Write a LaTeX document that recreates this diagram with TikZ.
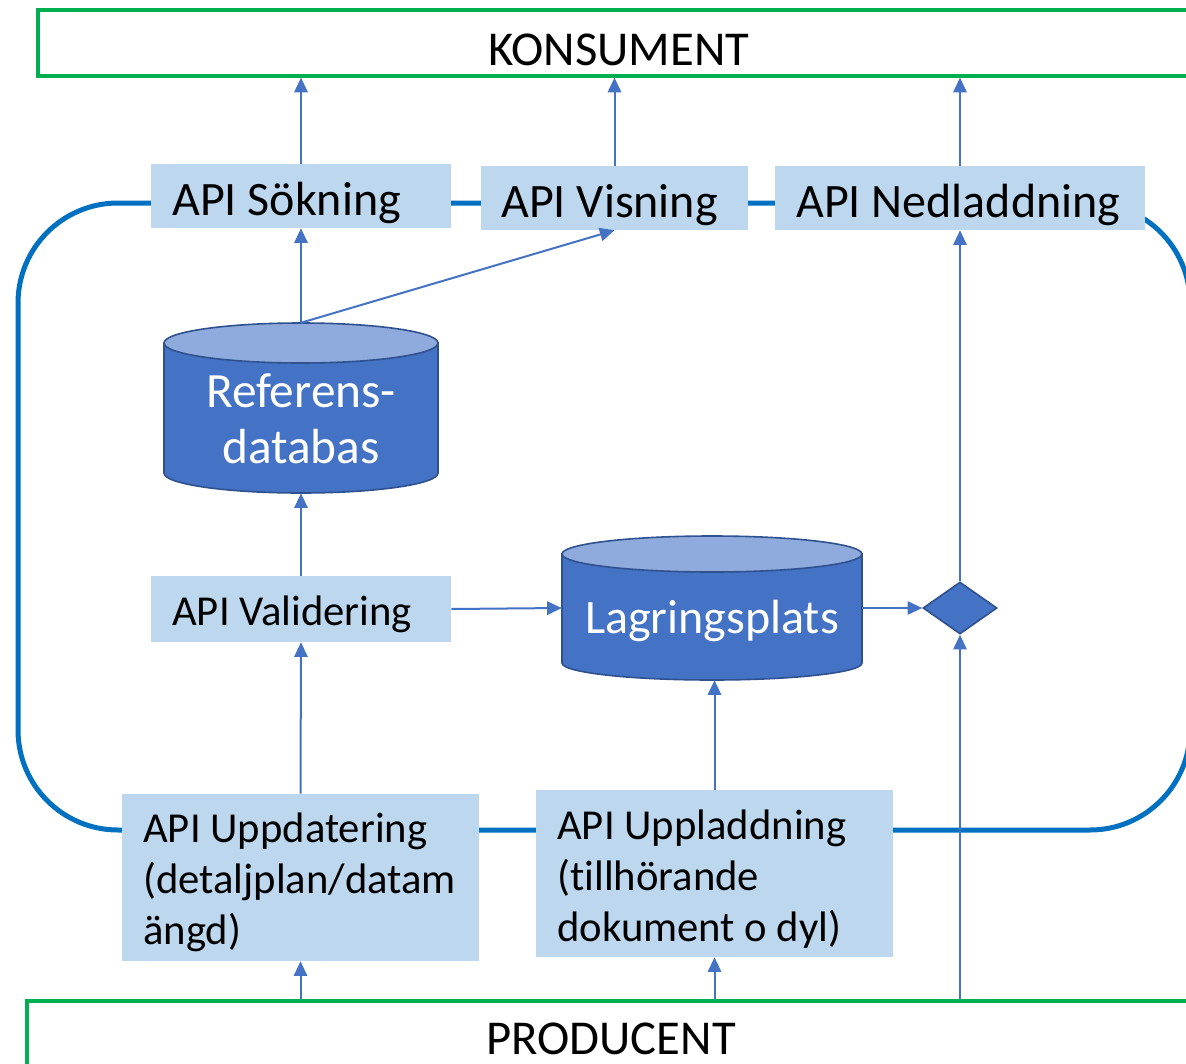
\documentclass[tikz,border=0pt]{standalone}
\usepackage{fontspec}
\setmainfont{Carlito}[Ligatures=NoCommon]
\usetikzlibrary{arrows.meta,shapes.geometric}
\definecolor{grn}{HTML}{00B050}
\definecolor{framec}{HTML}{0070C0}
\definecolor{boxfill}{HTML}{BDD7EE}
\definecolor{arrc}{HTML}{4472C4}
\definecolor{cylbody}{HTML}{4472C4}
\definecolor{cyltop}{HTML}{8FAADC}
\definecolor{cylline}{HTML}{2F528F}
\begin{document}
\begin{tikzpicture}[x=0.75pt,y=-0.75pt,
  apibox/.style={fill=boxfill, draw=none, inner sep=0},
  lbl/.style={inner sep=0, align=left, font=\fontsize{36}{38.25}\selectfont, text=black},
  small/.style={font=\fontsize{32}{38.25}\selectfont},
  arr/.style={draw=arrc, line width=1.5pt, -{Triangle[length=11pt,width=10pt]}},
  party/.style={draw=grn, line width=2.4pt, fill=white, inner sep=0},
  cyl/.style={fill=cylbody, draw=cylline, line width=1.2pt},
  anchorbox/.style={inner sep=0, draw=none}]
\useasboundingbox (0,0) rectangle (1186,1064);
\clip (0,0) rectangle (1186,1064);
\fill[white] (0,0) rectangle (1186,1064);

% surrounding frame
\draw[framec, line width=3.75pt, rounded corners=75pt] (18,203) rectangle (1190,830);

% consumer and producer
\node[party, minimum width=871.5pt, minimum height=49.5pt] (kons) at (619,43) {};
\node[lbl, anchor=base, font=\fontsize{36.5}{40}\selectfont] (konst) at (619,65) {KONSUMENT};
\node[party, minimum width=876pt, minimum height=90pt] (prod) at (611,1061) {};
\node[lbl, anchor=base, font=\fontsize{36.5}{40}\selectfont] (prodt) at (611,1054) {PRODUCENT};

% API boxes
\node[apibox, minimum width=225pt, minimum height=48pt] (sok) at (301,196) {};
\node[lbl, anchor=base west] (sokt) at (172,215) {API Sökning};
\node[apibox, minimum width=200.25pt, minimum height=48pt] (vis) at (614.5,198) {};
\node[lbl, anchor=base west] (vist) at (501,217) {API Visning};
\node[apibox, minimum width=277.5pt, minimum height=48pt] (ned) at (960,198) {};
\node[lbl, anchor=base west] (nedt) at (796,217) {API Nedladdning};
\node[apibox, minimum width=225pt, minimum height=49.5pt] (val) at (301,609) {};
\node[lbl, small, anchor=base west] (valt) at (172,625) {API Validering};
\node[apibox, minimum width=267.75pt, minimum height=125.25pt] (upd) at (300.5,877.5) {};
\node[lbl, small, anchor=north west] (updt) at (143,812.5) {API Uppdatering\\(detaljplan/datam\\ängd)};
\node[apibox, minimum width=267.75pt, minimum height=125.25pt] (upl) at (714.5,873.5) {};
\node[lbl, small, anchor=north west] (uplt) at (557,809.5) {API Uppladdning\\(tillhörande\\dokument o dyl)};

% Referensdatabas cylinder
\path[cyl] (164,343) -- (164,473) arc[start angle=180,end angle=360,x radius=102.75pt,y radius=15pt] -- (438,343) -- cycle;
\draw[cyl, fill=cyltop] (301,343) ellipse [x radius=102.75pt, y radius=15pt];
\node[anchorbox, minimum width=205.5pt, minimum height=127.5pt] (refdb) at (301,408) {};
\node[lbl, align=center, anchor=north, text=white, font=\fontsize{37}{42}\selectfont] (refdbt) at (301,373) {Referens-\\databas};

% Lagringsplats cylinder
\path[cyl] (562,554) -- (562,663) arc[start angle=180,end angle=360,x radius=112.5pt,y radius=12.75pt] -- (862,554) -- cycle;
\draw[cyl, fill=cyltop] (712,554) ellipse [x radius=112.5pt, y radius=13.5pt];
\node[anchorbox, minimum width=225pt, minimum height=108pt] (lag) at (712,608) {};
\node[lbl, anchor=base, text=white] (lagt) at (712,633) {Lagringsplats};

% decision diamond
\node[diamond, fill=cylbody, draw=cylline, line width=1.2pt, minimum width=55.5pt, minimum height=39pt, inner sep=0] (dia) at (960,608) {};

% connectors
\draw[arr] (sok.north) -- (sok.north |- kons.south);
\draw[arr] (vis.north) -- (vis.north |- kons.south);
\draw[arr] (ned.north) -- (ned.north |- kons.south);
\draw[arr] (refdb.north) -- (sok.south);
\draw[arr] (refdb.north) -- (vis.south);
\draw[arr] (val.north) -- (refdb.south);
\draw[arr] (upd.north) -- (val.south);
\draw[arr] (val.east) -- (lag.west);
\draw[arr] (lag.east) -- (dia.west);
\draw[arr] (dia.north) -- (ned.south);
\draw[arr] (upl.north) -- (upl.north |- lag.south);
\draw[arr] (upd.south |- prod.north) -- (upd.south);
\draw[arr] (upl.south |- prod.north) -- (upl.south);
\draw[arr] (dia.south |- prod.north) -- (dia.south);
\end{tikzpicture}
\end{document}
